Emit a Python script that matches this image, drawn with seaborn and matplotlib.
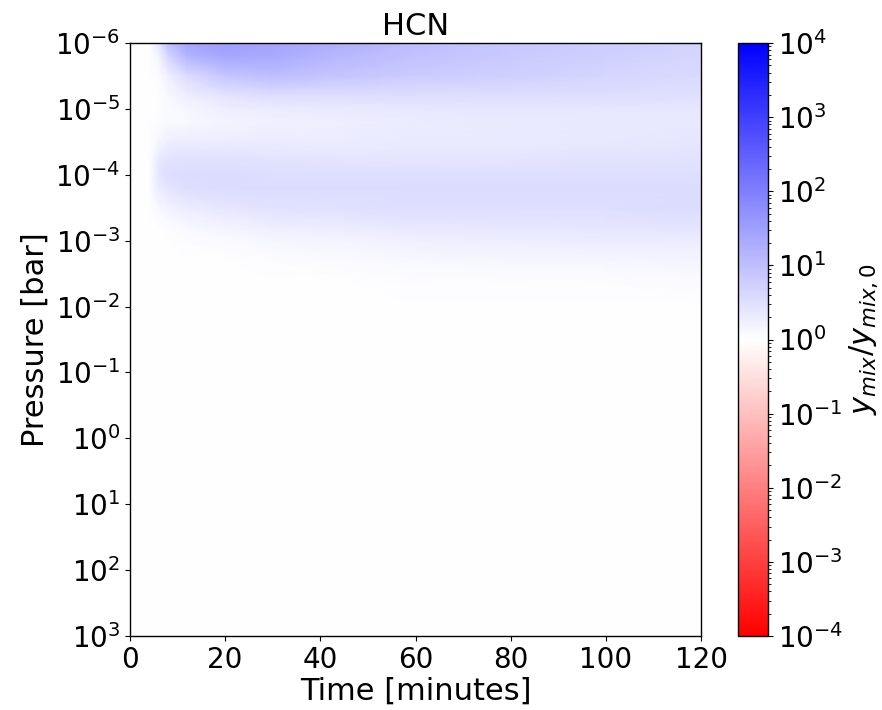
import numpy as np
import matplotlib
matplotlib.use("Agg")
import matplotlib.pyplot as plt
import seaborn as sns
from matplotlib.colors import LogNorm
from matplotlib.ticker import NullLocator

# Time axis (minutes) and pressure levels (log10 bar) of the read-off grid
time_min = [0, 4, 6, 8, 12, 20, 30, 45, 60, 80, 100, 120]
log_pressure = [-6.0, -5.8, -5.5, -5.2, -5.0, -4.8, -4.5, -4.2, -4.0,
                -3.8, -3.5, -3.2, -3.0, -2.7, -2.4, -2.0, 3.0]

# log10(y_mix / y_mix,0) for HCN, one row per pressure level
log_ratio = [
    [0, 0, 0.35, 1.00, 1.40, 1.50, 1.42, 1.22, 1.02, 0.86, 0.75, 0.66],
    [0, 0, 0.18, 0.65, 1.18, 1.38, 1.32, 1.12, 0.96, 0.83, 0.72, 0.64],
    [0, 0, 0.06, 0.22, 0.55, 0.90, 1.00, 0.90, 0.80, 0.72, 0.65, 0.58],
    [0, 0, 0.02, 0.10, 0.26, 0.42, 0.52, 0.52, 0.52, 0.52, 0.50, 0.48],
    [0, 0, 0.02, 0.08, 0.15, 0.25, 0.30, 0.33, 0.36, 0.40, 0.40, 0.40],
    [0, 0, 0.05, 0.10, 0.12, 0.18, 0.22, 0.25, 0.30, 0.33, 0.35, 0.36],
    [0, 0, 0.15, 0.25, 0.30, 0.30, 0.30, 0.30, 0.32, 0.34, 0.36, 0.38],
    [0, 0, 0.35, 0.45, 0.48, 0.48, 0.45, 0.42, 0.42, 0.43, 0.44, 0.45],
    [0, 0, 0.40, 0.50, 0.55, 0.55, 0.52, 0.50, 0.50, 0.50, 0.50, 0.50],
    [0, 0, 0.30, 0.42, 0.50, 0.55, 0.55, 0.55, 0.55, 0.55, 0.55, 0.55],
    [0, 0, 0.10, 0.20, 0.30, 0.40, 0.45, 0.48, 0.50, 0.52, 0.53, 0.54],
    [0, 0, 0.02, 0.05, 0.10, 0.18, 0.25, 0.30, 0.35, 0.38, 0.40, 0.42],
    [0, 0, 0.00, 0.02, 0.04, 0.08, 0.13, 0.18, 0.22, 0.26, 0.29, 0.30],
    [0, 0, 0.00, 0.00, 0.01, 0.03, 0.05, 0.08, 0.10, 0.13, 0.15, 0.17],
    [0, 0, 0.00, 0.00, 0.00, 0.01, 0.02, 0.03, 0.04, 0.05, 0.06, 0.07],
    [0, 0, 0.00, 0.00, 0.00, 0.00, 0.00, 0.01, 0.01, 0.01, 0.02, 0.02],
    [0, 0, 0.00, 0.00, 0.00, 0.00, 0.00, 0.00, 0.00, 0.00, 0.00, 0.00],
]

sns.set_style("ticks", rc={
    "axes.edgecolor": "black",
    "xtick.color": "black",
    "ytick.color": "black",
    "text.color": "black",
    "axes.labelcolor": "black",
})
plt.rcParams["font.family"] = ["DejaVu Sans"]
plt.rcParams["font.size"] = 20
plt.rcParams["axes.linewidth"] = 1.0

pressure = 10.0 ** np.array(log_pressure)
ratio = 10.0 ** np.array(log_ratio)

fig = plt.figure(figsize=(8.82, 7.10), dpi=100)
ax = fig.add_axes([0.1474, 0.1042, 0.6474, 0.8352])
cax = fig.add_axes([0.8367, 0.1042, 0.0344, 0.8352])

mesh = ax.pcolormesh(time_min, pressure, ratio, cmap="bwr_r",
                     norm=LogNorm(vmin=1e-4, vmax=1e4), shading="gouraud")
ax.set_yscale("log")
ax.set_ylim(1e3, 1e-6)
ax.set_xlim(0, 120)
ax.set_yticks([10.0 ** k for k in range(-6, 4)])
ax.yaxis.set_minor_locator(NullLocator())
ax.set_xticks([0, 20, 40, 60, 80, 100, 120])
ax.tick_params(labelsize=20)
ax.set_xlabel("Time [minutes]", fontsize=22, labelpad=2)
ax.set_ylabel("Pressure [bar]", fontsize=22)
ax.set_title("HCN", fontsize=22)

cbar = fig.colorbar(mesh, cax=cax)
cbar.ax.tick_params(labelsize=20)
cbar.set_label(r"$y_{mix}/y_{mix,0}$", fontsize=22, labelpad=3)

fig.savefig("out.png", dpi=100)
